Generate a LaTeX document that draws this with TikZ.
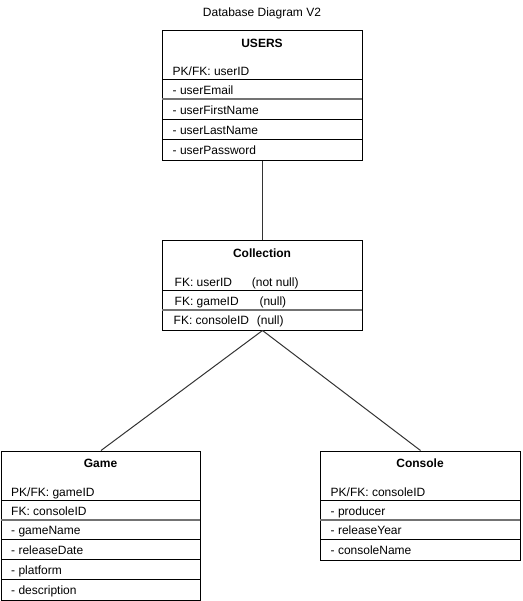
\documentclass[tikz,border=0pt]{standalone}
\usepackage{fontspec}
\setmainfont{Liberation Sans}
\begin{document}
\begin{tikzpicture}[x=1pt,y=-1pt,
  tbl/.style={draw=black,line width=1pt,inner sep=0pt,minimum width=200pt,anchor=north west},
  hdr/.style={font=\bfseries\fontsize{12}{14}\selectfont,anchor=base,inner sep=0pt},
  fld/.style={font=\fontsize{12}{14}\selectfont,anchor=base west,inner sep=0pt},
  ttl/.style={font=\fontsize{12}{14}\selectfont,anchor=base,inner sep=0pt},
  rowsep/.style={line width=1pt,draw=black},
  rowsepg/.style={line width=2pt,draw=black!55},
  link/.style={line width=1pt,draw=black!80}]
\useasboundingbox (0,0) rectangle (522,601);

% title
\node[ttl] (title) at (262,17) {Database Diagram V2};

% USERS
\node[tbl,minimum height=129.5pt] (users) at (162,30.5) {};
\node[hdr] (usersh) at (262,47.5) {USERS};
\node[fld] (u1) at (172.5,75.5) {PK/FK: userID};
\node[fld] (u2) at (172.5,94.5) {- userEmail};
\node[fld] (u3) at (172.5,114.5) {- userFirstName};
\node[fld] (u4) at (172.5,134.5) {- userLastName};
\node[fld] (u5) at (172.5,154.5) {- userPassword};
\draw[rowsep] (162,80) -- (362,80);
\draw[rowsepg] (162,99.5) -- (362,99.5);
\draw[rowsep] (162,120) -- (362,120);
\draw[rowsep] (162,140) -- (362,140);

% Collection
\node[tbl,minimum height=89pt] (coll) at (162,240.5) {};
\node[hdr] (collh) at (262,257.5) {Collection};
\node[fld] (c1) at (174.5,286) {FK: userID};
\node[fld] (c1b) at (251.7,286) {(not null)};
\node[fld] (c2) at (174.5,305) {FK: gameID};
\node[fld] (c2b) at (259.3,305) {(null)};
\node[fld] (c3) at (173.5,324.5) {FK: consoleID};
\node[fld] (c3b) at (256.7,324.5) {(null)};
\draw[rowsep] (162,290.5) -- (362,290.5);
\draw[rowsepg] (162,309.5) -- (362,309.5);

% Game
\node[tbl,minimum width=199pt,minimum height=149.5pt] (game) at (1,450.5) {};
\node[hdr] (gameh) at (100.5,467.5) {Game};
\node[fld] (g1) at (11,496) {PK/FK: gameID};
\node[fld] (g2) at (11,515) {FK: consoleID};
\node[fld] (g3) at (11,534.5) {- gameName};
\node[fld] (g4) at (11,554.5) {- releaseDate};
\node[fld] (g5) at (11,574.5) {- platform};
\node[fld] (g6) at (11,594.5) {- description};
\draw[rowsep] (1,500.5) -- (200,500.5);
\draw[rowsepg] (1,519.5) -- (200,519.5);
\draw[rowsep] (1,539.5) -- (200,539.5);
\draw[rowsep] (1,559.5) -- (200,559.5);
\draw[rowsep] (1,579.5) -- (200,579.5);

% Console
\node[tbl,minimum height=109.5pt] (console) at (320,450.5) {};
\node[hdr] (consoleh) at (420,467.5) {Console};
\node[fld] (k1) at (330.5,496) {PK/FK: consoleID};
\node[fld] (k2) at (330.5,515) {- producer};
\node[fld] (k3) at (330.5,534.5) {- releaseYear};
\node[fld] (k4) at (330.5,554.5) {- consoleName};
\draw[rowsep] (320,500.5) -- (520,500.5);
\draw[rowsepg] (320,519.5) -- (520,519.5);
\draw[rowsep] (320,539.5) -- (520,539.5);

% connectors
\draw[link] (users.south) -- (coll.north);
\draw[link] (coll.south) -- (game.north);
\draw[link] (coll.south) -- (console.north);
\end{tikzpicture}
\end{document}
